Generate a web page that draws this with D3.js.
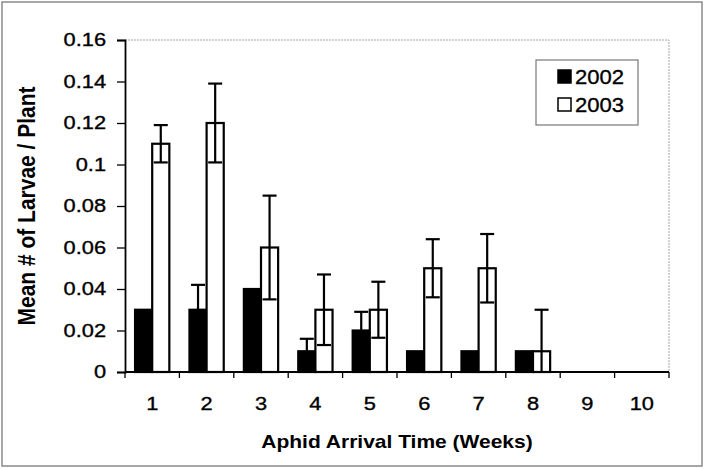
<!DOCTYPE html>
<html>
<head>
    <meta charset="utf-8">
    <title>Aphid Arrival Time - Larvae per Plant</title>
    <script src="https://d3js.org/d3.v7.min.js"></script>
    <style>
        body { margin: 0; background: #fff; }
        svg text { font-family: "Liberation Sans", Arial, sans-serif; fill: #000; }
        svg text.heavy { stroke: #000; stroke-width: 0.35px; }
    </style>
</head>
<body>
<div id="my_dataviz"></div>
<script>
    // categories (weeks) and series
    var weeks = ["1", "2", "3", "4", "5", "6", "7", "8", "9", "10"];
    var years = ["2002", "2003"];
    var mean2002 = [0.03, 0.03, 0.04, 0.01, 0.02, 0.01, 0.01, 0.01, 0, 0];
    var mean2003 = [0.11, 0.12, 0.06, 0.03, 0.03, 0.05, 0.05, 0.01, 0, 0];
    var err2002 = [0, 0.012, 0, 0.006, 0.009, 0, 0, 0, 0, 0];
    var err2003 = [0.009, 0.019, 0.025, 0.017, 0.0135, 0.014, 0.0165, 0.02, 0, 0];
    var yTicks = [0, 0.02, 0.04, 0.06, 0.08, 0.1, 0.12, 0.14, 0.16];
    var yTickLabels = ["0", "0.02", "0.04", "0.06", "0.08", "0.1", "0.12", "0.14", "0.16"];

    var W = 704, H = 469;
    var margin = {top: 40, right: 35, bottom: 97, left: 125},
        width = W - margin.left - margin.right,
        height = H - margin.top - margin.bottom;

    var svg = d3.select("#my_dataviz")
        .append("svg")
        .attr("width", W)
        .attr("height", H);

    // outer chart frame
    svg.append("rect")
        .attr("x", 2).attr("y", 2)
        .attr("width", W - 4).attr("height", H - 5)
        .attr("fill", "none")
        .attr("stroke", "#8a8a8a")
        .attr("stroke-width", 1.5);

    var g = svg.append("g")
        .attr("transform", "translate(" + margin.left + "," + margin.top + ")");

    // scales
    var x0 = d3.scaleBand()
        .domain(weeks)
        .range([0, width])
        .paddingInner(0.37)
        .paddingOuter(0.185);
    var x1 = d3.scaleBand()
        .domain(years)
        .range([0, x0.bandwidth()]);
    var y = d3.scaleLinear()
        .domain([0, 0.16])
        .range([height, 0]);

    // plot area border (dotted, top and right)
    g.append("path")
        .attr("d", "M0,0H" + width + "V" + height)
        .attr("fill", "none")
        .attr("stroke", "#a5a5a5")
        .attr("stroke-width", 1)
        .attr("stroke-dasharray", "2,1");

    // rows of data
    var rows = weeks.map(function(w, i) {
        return [
            {week: w, year: "2002", value: mean2002[i], err: err2002[i]},
            {week: w, year: "2003", value: mean2003[i], err: err2003[i]}
        ];
    });
    var flat = [].concat.apply([], rows);

    // bars
    g.selectAll(".bar")
        .data(flat.filter(function(d) { return d.value > 0; }))
        .enter()
        .append("rect")
        .attr("class", "bar")
        .attr("x", function(d) { return x0(d.week) + x1(d.year); })
        .attr("y", function(d) { return y(d.value); })
        .attr("width", x1.bandwidth())
        .attr("height", function(d) { return height - y(d.value); })
        .attr("fill", function(d) { return d.year == "2002" ? "#000" : "#fff"; })
        .attr("stroke", "#000")
        .attr("stroke-width", 2.2);

    // error bars
    var capW = 14;
    var eb = g.selectAll(".err")
        .data(flat.filter(function(d) { return d.err > 0; }))
        .enter()
        .append("g")
        .attr("class", "err")
        .attr("transform", function(d) {
            return "translate(" + (x0(d.week) + x1(d.year) + x1.bandwidth() / 2) + ",0)";
        });
    eb.append("line")
        .attr("x1", 0).attr("x2", 0)
        .attr("y1", function(d) { return y(Math.max(0, d.value - d.err)); })
        .attr("y2", function(d) { return y(d.value + d.err); });
    eb.append("line")
        .attr("x1", -capW / 2).attr("x2", capW / 2)
        .attr("y1", function(d) { return y(d.value + d.err); })
        .attr("y2", function(d) { return y(d.value + d.err); });
    eb.filter(function(d) { return d.value - d.err > 0; })
        .append("line")
        .attr("x1", -capW / 2).attr("x2", capW / 2)
        .attr("y1", function(d) { return y(d.value - d.err); })
        .attr("y2", function(d) { return y(d.value - d.err); });
    eb.selectAll("line")
        .attr("stroke", "#000")
        .attr("stroke-width", 2.2);

    // Y axis
    var yAxis = g.append("g")
        .call(d3.axisLeft(y)
            .tickValues(yTicks)
            .tickFormat(function(d, i) { return yTickLabels[i]; })
            .tickSize(8)
            .tickPadding(8.1));
    yAxis.select(".domain").attr("stroke", "#000").attr("stroke-width", 1.8);
    yAxis.selectAll(".tick line").attr("stroke", "#000").attr("stroke-width", 1.3);
    yAxis.selectAll("text")
        .attr("class", "heavy")
        .attr("font-size", 18.5)
        .attr("font-family", "'Liberation Sans', Arial, sans-serif")
        .attr("transform", "scale(1.18,1)");

    // X axis: labels centered in bands
    var xAxis = g.append("g")
        .attr("transform", "translate(0," + height + ")")
        .call(d3.axisBottom(x0).tickSize(0).tickPadding(24.5));
    xAxis.select(".domain").remove();
    xAxis.selectAll("text")
        .attr("class", "heavy")
        .attr("font-size", 18.5)
        .attr("font-family", "'Liberation Sans', Arial, sans-serif");
    xAxis.selectAll(".tick").each(function() {
        var t = d3.select(this);
        var tx = +t.attr("transform").match(/translate\(([^,]+),/)[1];
        t.attr("transform", "translate(" + tx + ",0)");
        t.select("text").attr("transform", "scale(1.18,1)").attr("x", 0);
    });
    // X axis line and tick marks at band boundaries
    g.append("line")
        .attr("x1", 0).attr("x2", width)
        .attr("y1", height).attr("y2", height)
        .attr("stroke", "#000").attr("stroke-width", 1.8);
    var edges = d3.range(weeks.length + 1).map(function(i) { return i * x0.step(); });
    g.selectAll(".xtick")
        .data(edges)
        .enter()
        .append("line")
        .attr("class", "xtick")
        .attr("x1", function(d) { return d; })
        .attr("x2", function(d) { return d; })
        .attr("y1", height)
        .attr("y2", height + 6)
        .attr("stroke", "#000")
        .attr("stroke-width", 1.3);

    // axis titles
    svg.append("text")
        .attr("transform", "translate(" + (margin.left + width / 2) + ",448) scale(1.105,1)")
        .attr("text-anchor", "middle")
        .attr("font-size", 19)
        .attr("font-weight", "bold")
        .text("Aphid Arrival Time (Weeks)");

    svg.append("text")
        .attr("transform", "translate(35," + (margin.top + height / 2) + ") rotate(-90) scale(1,1.15)")
        .attr("text-anchor", "middle")
        .attr("font-size", 21)
        .attr("font-weight", "bold")
        .text("Mean # of Larvae / Plant");

    // legend
    var legend = svg.append("g").attr("transform", "translate(536,60)");
    legend.append("rect")
        .attr("width", 102).attr("height", 65)
        .attr("fill", "#fff")
        .attr("stroke", "#777")
        .attr("stroke-width", 1.2);
    var li = legend.selectAll(".li")
        .data(years)
        .enter()
        .append("g")
        .attr("class", "li")
        .attr("transform", function(d, i) { return "translate(0," + (i * 28) + ")"; });
    li.append("rect")
        .attr("x", 22).attr("y", 10)
        .attr("width", 13).attr("height", 13)
        .attr("fill", function(d) { return d == "2002" ? "#000" : "#fff"; })
        .attr("stroke", "#000")
        .attr("stroke-width", 1.5);
    li.append("text")
        .attr("class", "heavy")
        .attr("transform", "translate(39,24) scale(1.05,1)")
        .attr("font-size", 21)
        .text(function(d) { return d; });
</script>
</body>
</html>
